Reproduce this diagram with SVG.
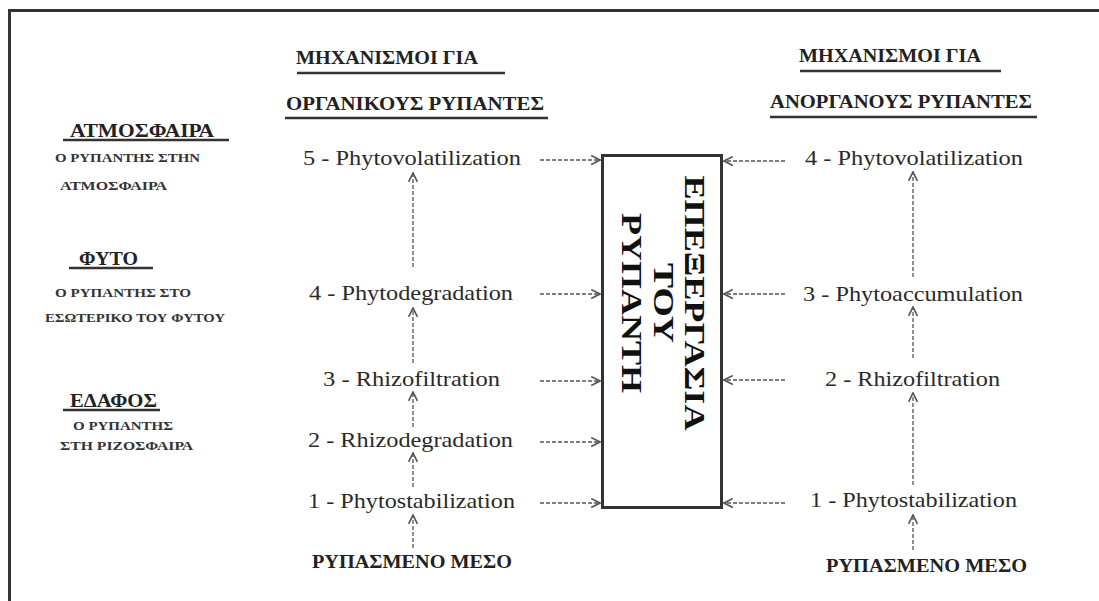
<svg xmlns="http://www.w3.org/2000/svg" width="1099" height="601" viewBox="0 0 1099 601">
<defs>
<marker id="ah" viewBox="0 0 10 10" refX="9" refY="5" markerWidth="11" markerHeight="11" markerUnits="userSpaceOnUse" orient="auto">
<path d="M1,1 L9,5 L1,9" fill="none" stroke="#555" stroke-width="1.5"/>
</marker>
<style>
text{font-family:'Liberation Serif',serif}
.hd{font-weight:bold;font-size:19px;fill:#222}
.lb{font-size:21px;fill:#2a2a2a}
.sm{font-weight:bold;font-size:12px;fill:#333}
.zt{font-weight:bold;font-size:18px;fill:#222}
.bx{font-weight:bold;font-size:30px;fill:#111}
.ul{stroke:#333;stroke-width:2.5}
.ar{stroke:#555;stroke-width:1.3;stroke-dasharray:4 2;fill:none;marker-end:url(#ah)}
</style>
</defs>
<rect width="1099" height="601" fill="#fff"/>
<g id="frame"><path d="M9.5,601 V10.5 H1099" fill="none" stroke="#333" stroke-width="3"/></g>

<g id="header-left">
<text class="hd" x="296" y="64" textLength="182" lengthAdjust="spacingAndGlyphs">ΜΗΧΑΝΙΣΜΟΙ ΓΙΑ</text>
<line class="ul" x1="297" y1="73" x2="505" y2="73"/>
<text class="hd" x="286" y="110" textLength="258" lengthAdjust="spacingAndGlyphs">ΟΡΓΑΝΙΚΟΥΣ ΡΥΠΑΝΤΕΣ</text>
<line class="ul" x1="285" y1="118" x2="548" y2="118"/>
</g>
<g id="header-right">
<text class="hd" x="799" y="62" textLength="182" lengthAdjust="spacingAndGlyphs">ΜΗΧΑΝΙΣΜΟΙ ΓΙΑ</text>
<line class="ul" x1="800" y1="71" x2="1001" y2="71"/>
<text class="hd" x="770" y="108" textLength="262" lengthAdjust="spacingAndGlyphs">ΑΝΟΡΓΑΝΟΥΣ ΡΥΠΑΝΤΕΣ</text>
<line class="ul" x1="770" y1="117" x2="1037" y2="117"/>
</g>

<g id="zone-atmosphere">
<text class="zt" x="70" y="137" textLength="144" lengthAdjust="spacingAndGlyphs">ΑΤΜΟΣΦΑΙΡΑ</text>
<line class="ul" x1="63" y1="140" x2="229" y2="140"/>
<text class="sm" x="55" y="162" textLength="145" lengthAdjust="spacingAndGlyphs">Ο ΡΥΠΑΝΤΗΣ ΣΤΗΝ</text>
<text class="sm" x="60" y="190" textLength="107" lengthAdjust="spacingAndGlyphs">ΑΤΜΟΣΦΑΙΡΑ</text>
</g>
<g id="zone-plant">
<text class="zt" x="79" y="265" textLength="59" lengthAdjust="spacingAndGlyphs">ΦΥΤΟ</text>
<line class="ul" x1="69" y1="268" x2="153" y2="268"/>
<text class="sm" x="55" y="297" textLength="136" lengthAdjust="spacingAndGlyphs">Ο ΡΥΠΑΝΤΗΣ ΣΤΟ</text>
<text class="sm" x="45" y="322" textLength="180" lengthAdjust="spacingAndGlyphs">ΕΣΩΤΕΡΙΚΟ ΤΟΥ ΦΥΤΟΥ</text>
</g>
<g id="zone-soil">
<text class="zt" x="70" y="407" textLength="87" lengthAdjust="spacingAndGlyphs">ΕΔΑΦΟΣ</text>
<line class="ul" x1="63" y1="410" x2="160" y2="410"/>
<text class="sm" x="73" y="430" textLength="100" lengthAdjust="spacingAndGlyphs">Ο ΡΥΠΑΝΤΗΣ</text>
<text class="sm" x="60" y="450" textLength="133" lengthAdjust="spacingAndGlyphs">ΣΤΗ ΡΙΖΟΣΦΑΙΡΑ</text>
</g>

<g id="left-5"><text class="lb" x="303" y="165" textLength="218" lengthAdjust="spacingAndGlyphs">5 - Phytovolatilization</text></g>
<g id="left-4"><text class="lb" x="309" y="300" textLength="204" lengthAdjust="spacingAndGlyphs">4 - Phytodegradation</text></g>
<g id="left-3"><text class="lb" x="323" y="386" textLength="177" lengthAdjust="spacingAndGlyphs">3 - Rhizofiltration</text></g>
<g id="left-2"><text class="lb" x="308" y="447" textLength="205" lengthAdjust="spacingAndGlyphs">2 - Rhizodegradation</text></g>
<g id="left-1"><text class="lb" x="308" y="508" textLength="207" lengthAdjust="spacingAndGlyphs">1 - Phytostabilization</text></g>
<g id="left-source"><text class="zt" x="312" y="568" textLength="200" lengthAdjust="spacingAndGlyphs">ΡΥΠΑΣΜΕΝΟ ΜΕΣΟ</text></g>

<g id="right-4"><text class="lb" x="805" y="165" textLength="218" lengthAdjust="spacingAndGlyphs">4 - Phytovolatilization</text></g>
<g id="right-3"><text class="lb" x="803" y="301" textLength="220" lengthAdjust="spacingAndGlyphs">3 - Phytoaccumulation</text></g>
<g id="right-2"><text class="lb" x="825" y="386" textLength="175" lengthAdjust="spacingAndGlyphs">2 - Rhizofiltration</text></g>
<g id="right-1"><text class="lb" x="810" y="507" textLength="207" lengthAdjust="spacingAndGlyphs">1 - Phytostabilization</text></g>
<g id="right-source"><text class="zt" x="826" y="572" textLength="201" lengthAdjust="spacingAndGlyphs">ΡΥΠΑΣΜΕΝΟ ΜΕΣΟ</text></g>

<g id="process-box">
<rect x="602.5" y="155.5" width="119" height="352" fill="#fff" stroke="#333" stroke-width="3"/>
<g transform="translate(664,303) rotate(90)">
<text class="bx" x="0" y="-21" text-anchor="middle" textLength="255" lengthAdjust="spacingAndGlyphs">ΕΠΕΞΕΡΓΑΣΙΑ</text>
<text class="bx" x="0" y="10" text-anchor="middle" textLength="80" lengthAdjust="spacingAndGlyphs">ΤΟΥ</text>
<text class="bx" x="0" y="42" text-anchor="middle" textLength="180" lengthAdjust="spacingAndGlyphs">ΡΥΠΑΝΤΗ</text>
</g>
</g>

<g id="connectors">
<line class="ar" x1="413" y1="267" x2="413" y2="173"/>
<line class="ar" x1="413" y1="363" x2="413" y2="308"/>
<line class="ar" x1="413" y1="427" x2="413" y2="392"/>
<line class="ar" x1="413" y1="487" x2="413" y2="453"/>
<line class="ar" x1="413" y1="548" x2="413" y2="515"/>
<line class="ar" x1="540" y1="160" x2="600" y2="160"/>
<line class="ar" x1="540" y1="294" x2="600" y2="294"/>
<line class="ar" x1="540" y1="381" x2="600" y2="381"/>
<line class="ar" x1="540" y1="442" x2="600" y2="442"/>
<line class="ar" x1="540" y1="503" x2="600" y2="503"/>
<line class="ar" x1="913" y1="277" x2="913" y2="172"/>
<line class="ar" x1="913" y1="358" x2="913" y2="307"/>
<line class="ar" x1="913" y1="485" x2="913" y2="393"/>
<line class="ar" x1="913" y1="550" x2="913" y2="515"/>
<line class="ar" x1="785" y1="161" x2="724" y2="161"/>
<line class="ar" x1="785" y1="294" x2="724" y2="294"/>
<line class="ar" x1="785" y1="380" x2="724" y2="380"/>
<line class="ar" x1="785" y1="503" x2="724" y2="503"/>
</g>
</svg>
